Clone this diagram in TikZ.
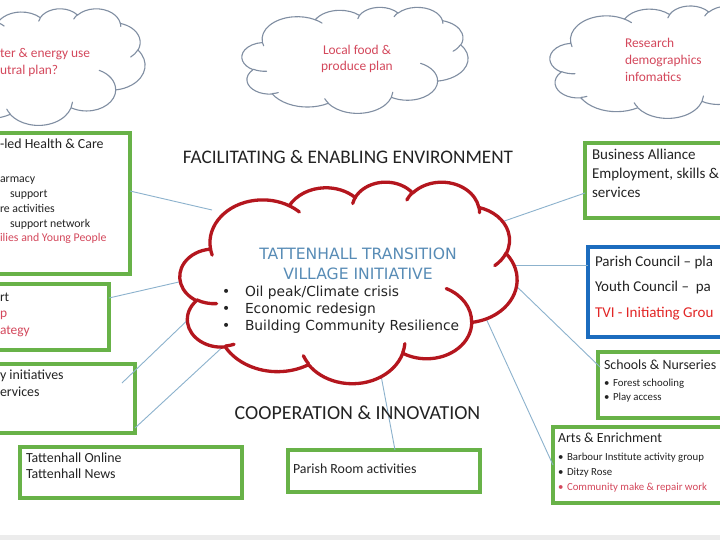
\documentclass[tikz,border=0pt]{standalone}
\usepackage{fontspec}
\setmainfont{Carlito}
\newfontfamily\verd{DejaVu Sans}
\definecolor{boxgreen}{RGB}{104,178,72}
\definecolor{boxblue}{RGB}{28,108,190}
\definecolor{cloudred}{RGB}{180,22,30}
\definecolor{cloudgrey}{RGB}{128,142,162}
\definecolor{connblue}{RGB}{140,178,205}
\definecolor{pinkred}{RGB}{212,72,92}
\definecolor{tvired}{RGB}{226,38,38}
\definecolor{titleblue}{RGB}{88,140,182}
\definecolor{ink}{RGB}{35,35,35}
\definecolor{bandgrey}{RGB}{236,236,236}

% convert OOXML visual angles to parametric ones
\newcommand\ooang[5]{%
  \pgfmathsetmacro\ooTmpS{atan2((#2)*sin(#4),(#3)*cos(#4))}%
  \pgfmathsetmacro\ooTmpE{atan2((#2)*sin((#4)+(#5)),(#3)*cos((#4)+(#5)))}%
  \pgfmathsetmacro\ooTmpD{(\ooTmpE)-(\ooTmpS)+360*((\ooTmpE)<(\ooTmpS))}%
  \expandafter\xdef\csname ooS#1\endcsname{\ooTmpS}%
  \expandafter\xdef\csname ooD#1\endcsname{\ooTmpD}%
}
\ooang{A}{15.6319}{21.2731}{-190.4875}{123.7805}
\ooang{B}{12.3449}{16.8218}{-144.1024}{89.9452}
\ooang{C}{10.1042}{13.7616}{-145.8079}{99.7230}
\ooang{D}{11.2431}{15.2662}{-130.9861}{117.2417}
\ooang{E}{12.3449}{16.8356}{-78.7089}{109.0269}
\ooang{F}{15.6829}{21.3426}{-46.2673}{130.2690}
\ooang{G}{13.3912}{18.2106}{0.6250}{114.0333}
\ooang{H}{15.6296}{21.3310}{22.4516}{115.1726}
\ooang{I}{17.8704}{24.4051}{66.2426}{75.7110}
\ooang{J}{10.0926}{13.6991}{-274.9421}{146.7356}
\ooang{K}{10.0579}{13.7616}{-246.8285}{152.5189}
\ooang{a}{10.0579}{13.7616}{86.7420}{26.4295}
\ooang{b}{10.0926}{13.6991}{73.6105}{11.4475}
\ooang{c}{15.6296}{21.3310}{137.6242}{14.0811}
\ooang{d}{15.6296}{21.3310}{6.4533}{15.9984}
\ooang{e}{13.3912}{18.2106}{-70.2924}{70.9174}
\ooang{f}{12.3449}{16.8356}{30.3180}{27.7515}
\ooang{g}{11.2431}{15.2662}{-13.7443}{14.8589}
\ooang{h}{11.2431}{15.2662}{-149.1815}{18.1954}
\ooang{i}{10.1042}{13.7616}{-163.4943}{17.6864}
\ooang{j}{15.6319}{21.2731}{-66.7070}{12.3194}
\ooang{k}{15.6319}{21.2731}{157.6544}{11.8582}

% Word-style cloud: #1,#2 top-left, #3 width, #4 height, #5 style
\newcommand\wcloud[5]{%
  \begin{scope}[shift={(#1,#2)},xscale=#3/100,yscale=#4/100]
    \draw[#5,fill=white] (9.0278,33.2639)
      arc[start angle=\ooSA,delta angle=\ooDA,x radius=15.6319,y radius=21.2731]
      arc[start angle=\ooSB,delta angle=\ooDB,x radius=12.3449,y radius=16.8218]
      arc[start angle=\ooSC,delta angle=\ooDC,x radius=10.1042,y radius=13.7616]
      arc[start angle=\ooSD,delta angle=\ooDD,x radius=11.2431,y radius=15.2662]
      arc[start angle=\ooSE,delta angle=\ooDE,x radius=12.3449,y radius=16.8356]
      arc[start angle=\ooSF,delta angle=\ooDF,x radius=15.6829,y radius=21.3426]
      arc[start angle=\ooSG,delta angle=\ooDG,x radius=13.3912,y radius=18.2106]
      arc[start angle=\ooSH,delta angle=\ooDH,x radius=15.6296,y radius=21.3310]
      arc[start angle=\ooSI,delta angle=\ooDI,x radius=17.8704,y radius=24.4051]
      arc[start angle=\ooSJ,delta angle=\ooDJ,x radius=10.0926,y radius=13.6991]
      arc[start angle=\ooSK,delta angle=\ooDK,x radius=10.0579,y radius=13.7616]
      -- cycle;
    \draw[#5]
      (10.8634,60.5949) arc[start angle=\ooSa,delta angle=\ooDa,x radius=10.0579,y radius=13.7616]
      (16.0370,80.7847) arc[start angle=\ooSb,delta angle=\ooDb,x radius=10.0926,y radius=13.6991]
      (38.1435,90.4861) arc[start angle=\ooSc,delta angle=\ooDc,x radius=15.6296,y radius=21.3310]
      (66.7292,80.4421) arc[start angle=\ooSd,delta angle=\ooDd,x radius=15.6296,y radius=21.3310]
      (79.0023,53.1343) arc[start angle=\ooSe,delta angle=\ooDe,x radius=13.3912,y radius=18.2106]
      (96.7546,35.5417) arc[start angle=\ooSf,delta angle=\ooDf,x radius=12.3449,y radius=16.8356]
      (88.7130,12.5602) arc[start angle=\ooSg,delta angle=\ooDg,x radius=11.2431,y radius=15.2662]
      (67.3102,9.1481) arc[start angle=\ooSh,delta angle=\ooDh,x radius=11.2431,y radius=15.2662]
      (51.2523,10.9259) arc[start angle=\ooSi,delta angle=\ooDi,x radius=10.1042,y radius=13.7616]
      (32.4074,12.0185) arc[start angle=\ooSj,delta angle=\ooDj,x radius=15.6319,y radius=21.2731]
      (9.5532,36.5486) arc[start angle=\ooSk,delta angle=\ooDk,x radius=15.6319,y radius=21.2731];
  \end{scope}}

\begin{document}
\begin{tikzpicture}[x=1pt,y=-1pt,
  gbox/.style={draw=boxgreen,line width=3.4pt,inner sep=0pt,outer sep=0pt,rectangle},
  bbox/.style={draw=boxblue,line width=3.4pt,inner sep=0pt,outer sep=0pt,rectangle},
  conn/.style={draw=connblue,line width=0.9pt},
  redcloud/.style={draw=cloudred,line width=3.3pt,line join=round,line cap=round},
  greycloud/.style={draw=cloudgrey,line width=1.1pt,line join=round,line cap=round},
  txt/.style={inner sep=0pt,outer sep=0pt,anchor=base west,text=ink},
  ctxt/.style={txt,anchor=base},
  f14/.style={font=\fontsize{13.9}{16}\selectfont},
  f15/.style={font=\fontsize{15}{17}\selectfont},
  f12/.style={font=\fontsize{11.8}{14}\selectfont},
  f11/.style={font=\fontsize{10.8}{13}\selectfont},
  f13/.style={font=\fontsize{13.4}{16}\selectfont},
  f19/.style={font=\fontsize{19.2}{22}\selectfont},
  f20/.style={font=\fontsize{19.9}{22}\selectfont},
  fv/.style={font=\verd\fontsize{13.8}{16}\selectfont},
  fvt/.style={font=\verd\fontsize{15.6}{18}\selectfont},
]
\useasboundingbox (0,0) rectangle (720,540);
\clip (0,0) rectangle (720,540);
\fill[white] (0,0) rectangle (720,540);
\fill[bandgrey] (0,535) rectangle (720,540);

% ---------- boxes ----------
\node[gbox,minimum width=140pt,minimum height=141pt] (health) at (60,203.5) {};
\node[gbox,minimum width=119pt,minimum height=66pt] (transport) at (49.5,317) {};
\node[gbox,minimum width=145pt,minimum height=69pt] (community) at (62.5,398.5) {};
\node[gbox,minimum width=222pt,minimum height=51pt] (online) at (131,472.5) {};
\node[gbox,minimum width=192pt,minimum height=42pt] (parishroom) at (384,471) {};
\node[gbox,minimum width=165pt,minimum height=75pt] (business) at (667.5,180.5) {};
\node[bbox,minimum width=162pt,minimum height=90pt] (councils) at (669,292) {};
\node[gbox,minimum width=152pt,minimum height=66pt] (schools) at (674,385) {};
\node[gbox,minimum width=197pt,minimum height=76pt] (arts) at (651.5,465) {};

% ---------- connector end points ----------
\coordinate (hE) at (130,191);   \coordinate (k1) at (212,210);
\coordinate (tE) at (109,298);   \coordinate (k2) at (192,279);
\coordinate (cA) at (122,383);   \coordinate (k3) at (196,312);
\coordinate (cB) at (135,428);   \coordinate (k4) at (228,342);
\coordinate (bW) at (585,193);   \coordinate (k5) at (490,226);
\coordinate (pW) at (588,265);   \coordinate (k6) at (505,265);
\coordinate (sW) at (600,367);   \coordinate (k7) at (510,280);
\coordinate (aW) at (553,465);   \coordinate (k8) at (484,314);
\coordinate (rN) at (395,450);   \coordinate (k9) at (380,370);

\draw[conn] (hE) -- (k1);
\draw[conn] (tE) -- (k2);
\draw[conn] (cA) -- (k3);
\draw[conn] (cB) -- (k4);
\draw[conn] (bW) -- (k5);
\draw[conn] (pW) -- (k6);
\draw[conn] (sW) -- (k7);
\draw[conn] (aW) -- (k8);
\draw[conn] (rN) -- (k9);

% ---------- clouds ----------
\wcloud{-73}{8.4}{218}{116.6}{greycloud}
\wcloud{242}{7}{226}{106}{greycloud}
\wcloud{550}{5.6}{230}{112.4}{greycloud}
\wcloud{180}{181.5}{337}{201.5}{redcloud}

% ---------- cloud texts ----------
\node[txt,f13,text=pinkred] (w1) at (0,57.5) {ter \& energy use};
\node[txt,f13,text=pinkred] (w2) at (0,75) {utral plan?};
\node[ctxt,f13,text=pinkred] (lf1) at (357,54.5) {Local food \&};
\node[ctxt,f13,text=pinkred] (lf2) at (357,70.5) {produce plan};
\node[txt,f13,text=pinkred] (rs1) at (625,48) {Research};
\node[txt,f13,text=pinkred] (rs2) at (625,65) {demographics};
\node[txt,f13,text=pinkred] (rs3) at (625,82) {infomatics};

\node[ctxt,fvt,text=titleblue] (ti1) at (358,259) {TATTENHALL TRANSITION};
\node[ctxt,fvt,text=titleblue] (ti2) at (358,279) {VILLAGE INITIATIVE};
\node[txt,fv] (bu1) at (222,296) {•};
\node[txt,fv] (bu2) at (222,313) {•};
\node[txt,fv] (bu3) at (222,330) {•};
\node[txt,fv] (p1) at (245,296) {Oil peak/Climate crisis};
\node[txt,fv] (p2) at (245,313) {Economic redesign};
\node[txt,fv] (p3) at (245,330) {Building Community Resilience};

% ---------- section labels ----------
\node[ctxt,f19] (fac) at (348,164) {FACILITATING \& ENABLING ENVIRONMENT};
\node[ctxt,f20] (coop) at (357.5,419.5) {COOPERATION \& INNOVATION};

% ---------- left boxes text ----------
\node[txt,f14] (h0) at (0,148.5) {-led Health \& Care};
\node[txt,f12] (h1) at (0,183) {armacy};
\node[txt,f12] (h2) at (10,197.5) {support};
\node[txt,f12] (h3) at (0,212) {re activities};
\node[txt,f12] (h4) at (10,227) {support network};
\node[txt,f12,text=pinkred] (h5) at (0,241.5) {ilies and Young People};

\node[txt,f13] (t1) at (0,301.5) {rt};
\node[txt,f13,text=pinkred] (t2) at (0,317.5) {p};
\node[txt,f13,text=pinkred] (t3) at (0,334) {ategy};

\node[txt,f14] (c1) at (0,379.5) {y initiatives};
\node[txt,f14] (c2) at (0,396.5) {ervices};

\node[txt,f14] (o1) at (26,462.5) {Tattenhall Online};
\node[txt,f14] (o2) at (26,478.5) {Tattenhall News};

\node[txt,f14] (pr1) at (293,473.5) {Parish Room activities};

% ---------- right boxes text ----------
\node[txt,f15] (b1) at (592,159.5) {Business Alliance};
\node[txt,f15] (b2) at (592,179) {Employment, skills \&};
\node[txt,f15] (b3) at (592,198) {services};

\node[txt,f15] (pc1) at (595,266) {Parish Council – pla};
\node[txt,f15] (pc2) at (595,291) {Youth Council – \ pa};
\node[txt,f15,text=tvired] (pc3) at (595,317) {TVI - Initiating Grou};

\node[txt,f14] (s0) at (604,369.5) {Schools \& Nurseries};
\node[txt,f11] (s1b) at (604,386.5) {•};
\node[txt,f11] (s1) at (613,386.5) {Forest schooling};
\node[txt,f11] (s2b) at (604,400.5) {•};
\node[txt,f11] (s2) at (613,400.5) {Play access};

\node[txt,f14] (a0) at (558,442.5) {Arts \& Enrichment};
\node[txt,f11] (a1b) at (558,460.5) {•};
\node[txt,f11] (a1) at (567,460.5) {Barbour Institute activity group};
\node[txt,f11] (a2b) at (558,475.5) {•};
\node[txt,f11] (a2) at (567,475.5) {Ditzy Rose};
\node[txt,f11,text=pinkred] (a3b) at (558,490.5) {•};
\node[txt,f11,text=pinkred] (a3) at (567,490.5) {Community make \& repair work};
\end{tikzpicture}
\end{document}
